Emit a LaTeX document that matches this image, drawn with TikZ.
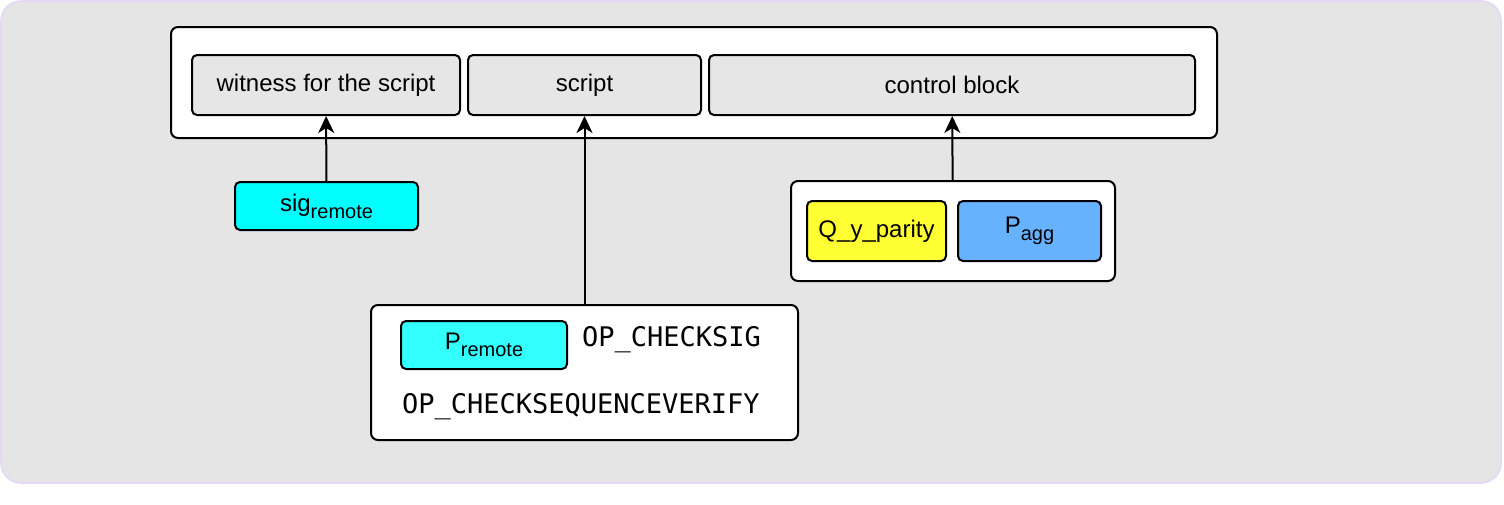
\documentclass[tikz,border=0pt]{standalone}
\usepackage{fontspec}
\setmainfont{Liberation Sans}
\setmonofont{DejaVu Sans Mono}
\usetikzlibrary{arrows.meta, positioning}
\definecolor{cbg}{HTML}{E5E5E5}
\definecolor{cedge}{HTML}{E6D6F8}
\definecolor{cfield}{HTML}{E6E6E6}
\definecolor{ccyan}{HTML}{00FFFF}
\definecolor{ccyanl}{HTML}{33FFFF}
\definecolor{cyellow}{HTML}{FFFF33}
\definecolor{cblue}{HTML}{66B2FF}
\newcommand{\lowsub}[1]{\raisebox{-3.5pt}{\fontsize{10}{12}\selectfont #1}}
\tikzset{
  every picture/.style={font=\fontsize{12}{14}\selectfont, line width=1pt},
  group/.style={draw=black, fill=white, rounded corners=3.5pt, inner sep=0pt},
  field/.style={draw=black, fill=#1, rounded corners=2.5pt, inner sep=0pt,
                minimum height=30pt, align=center},
  field/.default=cfield,
  opcode/.style={font=\ttfamily\fontsize{13.5}{16}\selectfont, inner sep=0pt, anchor=west},
  arrow/.style={-{Stealth[length=8.5pt, width=8pt, inset=2.5pt]}, draw=black, line width=1pt},
}

\begin{document}
\begin{tikzpicture}[x=0.5pt, y=-0.5pt]
  \useasboundingbox (0,0) rectangle (1504,504);
  \filldraw[fill=cbg, draw=cedge, line width=0.8pt, rounded corners=10pt] (1,1) rectangle (1501,483);
  % top: the three parts of the witness
  \node[group, minimum width=523pt, minimum height=55.5pt] (wit) at (694,82.5) {};
  \node[field, minimum width=134pt] (witness) at (326,85) {witness for the script};
  \node[field, minimum width=116.5pt] (script) at (584.5,85) {script};
  \node[field, minimum width=243pt] (control) at (952,85) {control block};
  % what goes into each part
  \node[field=ccyan, minimum width=91.5pt, minimum height=24pt] (sig) at (326.5,206) {sig\lowsub{remote}};
  \node[group, minimum width=162pt, minimum height=50pt] (ctrl) at (953,231) {};
  \node[field=cyellow, minimum width=69.5pt] (qpar) at (876.5,231) {Q\_y\_parity};
  \node[field=cblue, minimum width=71.5pt] (pagg) at (1029.5,231) {P\lowsub{agg}};
  \node[group, minimum width=213.5pt, minimum height=67.5pt] (leaf) at (584.5,372.5) {};
  \node[field=ccyanl, minimum width=83pt, minimum height=24pt] (premote) at (484,345) {P\lowsub{remote}};
  \node[opcode] (chksig) at (581,340) {OP\_CHECKSIG};
  \node[opcode] (csv) at (401,407) {OP\_CHECKSEQUENCEVERIFY};
  \draw[arrow] (sig) -- (witness);
  \draw[arrow] (leaf.north) -- (script.south);
  \draw[arrow] (ctrl) -- (control);
\end{tikzpicture}
\end{document}
